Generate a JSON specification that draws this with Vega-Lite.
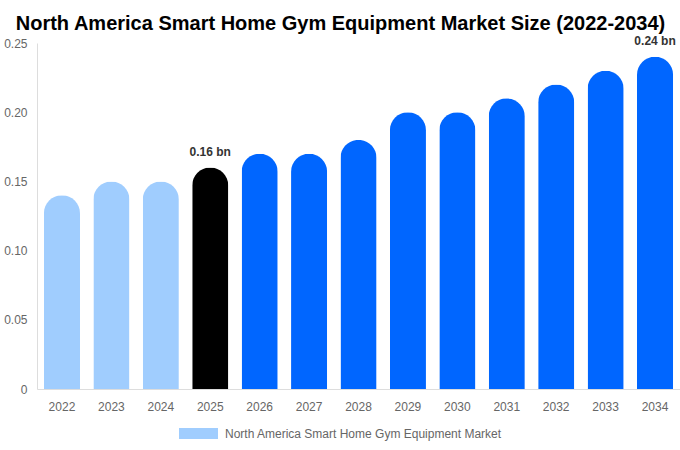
{
  "$schema": "https://vega.github.io/schema/vega-lite/v6.json",
  "width": 643,
  "height": 346,
  "autosize": {"type": "none"},
  "padding": {"left": 37, "right": 0, "top": 43, "bottom": 61},
  "background": "#ffffff",
  "config": {
    "font": "Liberation Sans",
    "view": {"stroke": null}
  },
  "title": {
    "text": "North America Smart Home Gym Equipment Market Size (2022-2034)",
    "fontSize": 20,
    "fontWeight": "bold",
    "color": "#000000",
    "anchor": "middle",
    "frame": "group",
    "dx": -18,
    "offset": 1
  },
  "data": {
    "values": [
      {"year": "2022", "value": 0.14, "segment": "North America Smart Home Gym Equipment Market"},
      {"year": "2023", "value": 0.15, "segment": "North America Smart Home Gym Equipment Market"},
      {"year": "2024", "value": 0.15, "segment": "North America Smart Home Gym Equipment Market"},
      {"year": "2025", "value": 0.16, "segment": "Base", "label": "0.16 bn"},
      {"year": "2026", "value": 0.17, "segment": "Forecast"},
      {"year": "2027", "value": 0.17, "segment": "Forecast"},
      {"year": "2028", "value": 0.18, "segment": "Forecast"},
      {"year": "2029", "value": 0.2, "segment": "Forecast"},
      {"year": "2030", "value": 0.2, "segment": "Forecast"},
      {"year": "2031", "value": 0.21, "segment": "Forecast"},
      {"year": "2032", "value": 0.22, "segment": "Forecast"},
      {"year": "2033", "value": 0.23, "segment": "Forecast"},
      {"year": "2034", "value": 0.24, "segment": "Forecast", "label": "0.24 bn"}
    ]
  },
  "encoding": {
    "x": {
      "field": "year",
      "type": "ordinal",
      "title": null,
      "scale": {"paddingInner": 0.27, "paddingOuter": 0.14},
      "axis": {
        "labelAngle": 0,
        "labelColor": "#666666",
        "labelFontSize": 12,
        "labelPadding": 12,
        "ticks": false,
        "domainColor": "#dddddd",
        "grid": false
      }
    },
    "y": {
      "field": "value",
      "type": "quantitative",
      "title": null,
      "scale": {"domain": [0, 0.25], "nice": false},
      "axis": {
        "values": [0, 0.05, 0.1, 0.15, 0.2, 0.25],
        "labelExpr": "datum.value == 0 ? '0' : format(datum.value, '.2f')",
        "labelColor": "#666666",
        "labelFontSize": 12,
        "labelPadding": 10,
        "ticks": false,
        "grid": false,
        "domainColor": "#dddddd"
      }
    }
  },
  "layer": [
    {
      "mark": {"type": "bar", "cornerRadiusTopLeft": 18, "cornerRadiusTopRight": 18},
      "encoding": {
        "color": {
          "field": "segment",
          "type": "nominal",
          "scale": {
            "domain": ["North America Smart Home Gym Equipment Market", "Base", "Forecast"],
            "range": ["#a0cdfe", "#000000", "#0066ff"]
          },
          "legend": {
            "values": ["North America Smart Home Gym Equipment Market"],
            "orient": "none",
            "legendX": 142,
            "legendY": 371,
            "direction": "horizontal",
            "title": null,
            "symbolType": "M-1,-0.28H1V0.28H-1Z",
            "symbolSize": 1521,
            "symbolStrokeWidth": 0,
            "labelColor": "#666666",
            "labelFontSize": 12,
            "labelOffset": 7,
            "labelLimit": 0
          }
        }
      }
    },
    {
      "transform": [{"filter": "isValid(datum.label)"}],
      "mark": {"type": "text", "dy": -16, "fontSize": 12, "fontWeight": "bold", "color": "#333333"},
      "encoding": {
        "text": {"field": "label"}
      }
    }
  ]
}
